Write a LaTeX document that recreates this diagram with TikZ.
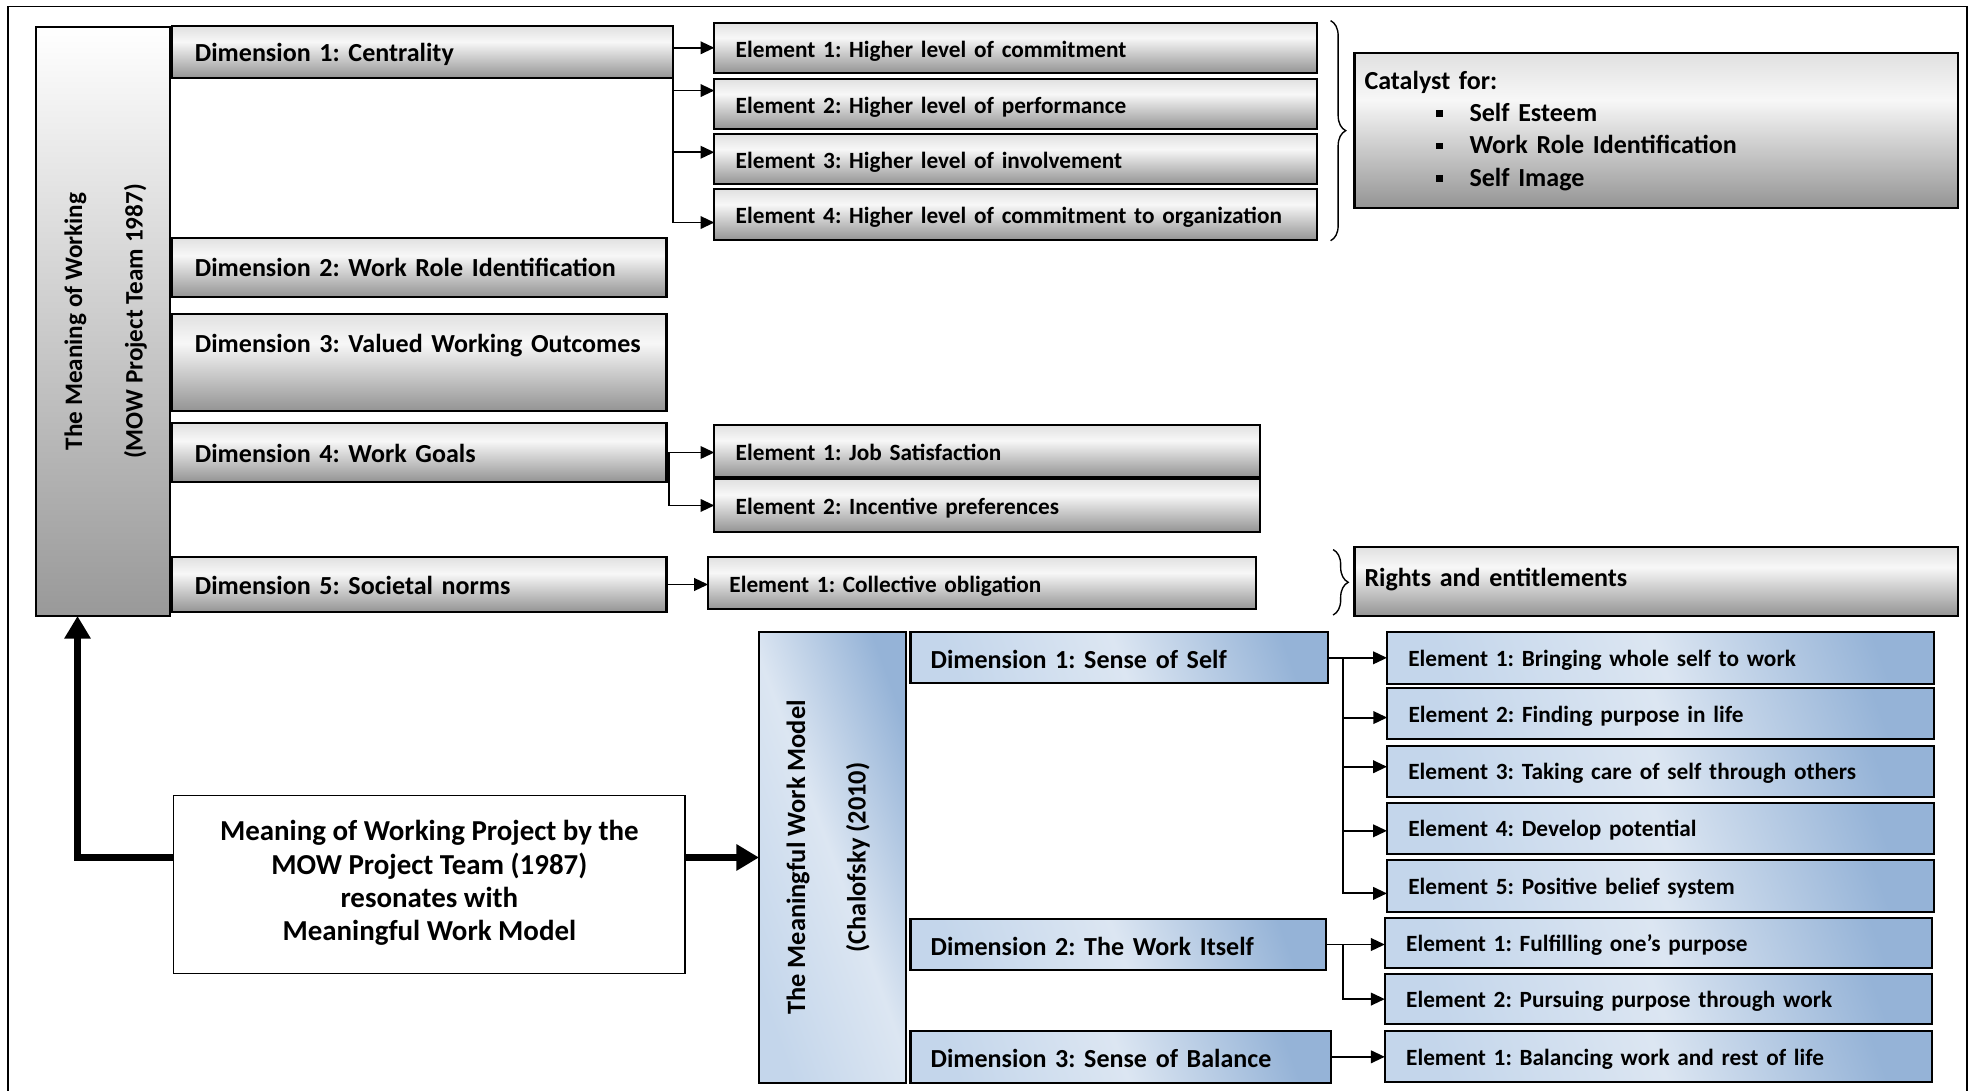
\documentclass[tikz,border=0pt]{standalone}
\usepackage{fontspec}
\setmainfont{Carlito}
\usetikzlibrary{arrows.meta,decorations.pathreplacing,calc}

\definecolor{bluelight}{HTML}{DCE6F2}
\definecolor{bluedark}{HTML}{95B3D7}
\definecolor{bluemid}{HTML}{C4D6EB}

% grey bar: darker bottom, bright band in the upper part, soft grey top
\pgfdeclareverticalshading{greybar}{100bp}{color(0bp)=(black!42); color(25bp)=(black!42); color(60bp)=(black!3); color(75bp)=(black!12); color(100bp)=(black!12)}
% blue bar: medium on the left, light in the middle, dark on the right
\pgfdeclarehorizontalshading{bluebar}{100bp}{color(0bp)=(bluemid); color(25bp)=(bluemid); color(50bp)=(bluelight); color(75bp)=(bluedark); color(100bp)=(bluedark)}

\newcommand\bigtxt{\fontsize{20.7}{24.8}\selectfont\bfseries}
\newcommand\rottxt{\fontsize{20}{24}\selectfont\bfseries}
\newcommand\eltxt{\fontsize{18.5}{22.2}\selectfont\bfseries}
\newcommand\cattxt{\fontsize{20.7}{25.6}\selectfont\bfseries}
\newcommand\midtxt{\fontsize{23}{26.5}\selectfont\bfseries}
\newcommand\sqbul{\rule[3.5pt]{5.5pt}{5.5pt}}

\begin{document}
\frenchspacing
\begin{tikzpicture}[x=1pt,y=-1pt,
  every node/.style={inner sep=0pt, outer sep=0pt},
  greybox/.style={draw=black, line width=1.7pt, shade, shading=greybar, anchor=north west,
    align=left, font=\bigtxt, inner xsep=18pt, inner ysep=0pt},
  oneline/.style={text height=#1, text depth=0pt},
  greydim/.style={greybox, oneline=15.2pt},
  greyel/.style={greybox, font=\eltxt, inner xsep=17pt, oneline=14.8pt},
  bluebox/.style={draw=black, line width=1.7pt, shade, shading=bluebar, shading angle=20,
    anchor=north west, align=left, font=\bigtxt, inner xsep=16pt, inner ysep=0pt, oneline=17.2pt},
  blueel/.style={bluebox, font=\eltxt, inner xsep=17pt, oneline=13.8pt},
  conn/.style={line width=1.5pt, -{Triangle[length=11pt,width=10pt]}},
  thickarr/.style={line width=5pt, -{Triangle[length=18pt,width=20pt]}},
  bracestyle/.style={line width=1.1pt, decorate, decoration={brace, amplitude=12pt}},
]
\useasboundingbox (0,0) rectangle (1568,867);
\draw[line width=1.2pt] (6.5,5) rectangle (1564,880);

% ---------------- MOW model ----------------
\node[draw=black, line width=1.7pt, shade, top color=white, bottom color=black!40,
      anchor=north west, minimum width=106.5pt, minimum height=468.3pt] (mow) at (28.4,21.5) {};
\node[rotate=90, font=\rottxt, align=center] (mowtxt) at ([xshift=2.4pt]mow.center)
  {The Meaning of Working\\[24pt](MOW Project Team 1987)};

\node[greydim, minimum width=398pt, minimum height=41pt, text width=362pt] (d1) at (137,21) {Dimension 1: Centrality};
\node[greydim, minimum width=393pt, minimum height=47pt, text width=357pt] (d2) at (137,189) {Dimension 2: Work Role Identification};
\node[greybox, minimum width=393pt, minimum height=77pt, text width=357pt] (d3) at (137,249.7) {Dimension 3: Valued Working Outcomes\\[6pt]\mbox{}};
\node[greydim, minimum width=393pt, minimum height=46.4pt, text width=357pt] (d4) at (137,336.6) {Dimension 4: Work Goals};
\node[greydim, minimum width=393pt, minimum height=43.5pt, text width=357pt] (d5) at (137,443) {Dimension 5: Societal norms};

\node[greyel, minimum width=479pt, minimum height=40pt, text width=445pt] (e1) at (568,18) {Element 1: Higher level of commitment};
\node[greyel, minimum width=479pt, minimum height=40pt, text width=445pt] (e2) at (568,62.8) {Element 2: Higher level of performance};
\node[greyel, minimum width=479pt, minimum height=39.5pt, text width=445pt] (e3) at (568,106.8) {Element 3: Higher level of involvement};
\node[greyel, minimum width=479pt, minimum height=40.3pt, text width=445pt] (e4) at (568,150.5) {Element 4: Higher level of commitment to organization};

\node[greybox, font=\cattxt, inner xsep=8pt, minimum width=480pt, minimum height=123.2pt, text width=464pt] (cat) at (1077,42.4)
  {Catalyst for:\\
   \hspace*{57pt}\sqbul\hspace{21pt}Self Esteem\\
   \hspace*{57pt}\sqbul\hspace{21pt}Work Role Identification\\
   \hspace*{57pt}\sqbul\hspace{21pt}Self Image};

\node[greyel, minimum width=434pt, minimum height=41pt, text width=400pt] (jobsat) at (568,338) {Element 1: Job Satisfaction};
\node[greyel, minimum width=434pt, minimum height=41.8pt, text width=400pt] (incent) at (568,381) {Element 2: Incentive preferences};
\node[greyel, minimum width=435.6pt, minimum height=41.5pt, text width=401.6pt] (collect) at (563,443) {Element 1: Collective obligation};
\node[greybox, oneline=8pt, inner xsep=8pt, minimum width=480pt, minimum height=55pt, text width=464pt] (rights) at (1077,434.7) {Rights and entitlements};

% connectors of the MOW dimensions
\coordinate (t1) at (d1.east |- e1.west);
\draw[conn] (t1) -- (e1.west);
\draw[conn] (t1) |- ([yshift=10.8pt]e2.west);
\draw[conn] (t1) |- ([yshift=5.5pt]e3.west);
\draw[conn] (t1) |- ([yshift=-6.3pt]e4.west);

\coordinate (t4) at ([xshift=2pt]d4.east);
\draw[conn] (d4.east) -- (d4.east -| jobsat.west);
\draw[conn] (t4) |- (incent.west);
\draw[conn] (d5.east) -- (d5.east -| collect.west);

\coordinate (b1) at (1058,16.4);
\coordinate (b2) at (1058,191.4);
\draw[bracestyle] (b1) -- (b2);
\coordinate (b3) at (1060,437);
\coordinate (b4) at (1060,489);
\draw[bracestyle] (b3) -- (b4);

% ---------------- linking box ----------------
\node[draw=black, line width=1.2pt, fill=white, anchor=north west,
      minimum width=406.8pt, minimum height=141.3pt] (mid) at (138,632.6) {};
\node[font=\midtxt, align=center] (midtxt) at ([yshift=1pt]mid.center)
  {Meaning of Working Project by the\\MOW Project Team (1987)\\resonates with\\Meaningful Work Model};

% ---------------- Meaningful Work Model ----------------
\node[draw=black, line width=1.7pt, shade, shading=bluebar, shading angle=20, anchor=north west,
      minimum width=117pt, minimum height=358pt] (mwm) at (603.5,502.8) {};
\node[rotate=90, font=\fontsize{21}{25}\selectfont\bfseries, align=center] (mwmtxt) at ([xshift=-3.5pt]mwm.center)
  {The Meaningful Work Model\\[23pt](Chalofsky (2010)};

\node[bluebox, minimum width=332.2pt, minimum height=40.5pt, text width=300.2pt] (bd1) at (724,502.8) {Dimension 1: Sense of Self};
\node[bluebox, minimum width=330.3pt, minimum height=40.6pt, text width=298.3pt] (bd2) at (724,730.7) {Dimension 2: The Work Itself};
\node[bluebox, minimum width=334pt, minimum height=41pt, text width=302pt] (bd3) at (724,819.8) {Dimension 3: Sense of Balance};

\node[blueel, minimum width=435.2pt, minimum height=41.1pt, text width=401.2pt] (be1) at (1102.8,502.8) {Element 1: Bringing whole self to work};
\node[blueel, minimum width=435pt, minimum height=40.5pt, text width=401pt] (be2) at (1103,547.3) {Element 2: Finding purpose in life};
\node[blueel, minimum width=435.2pt, minimum height=40.5pt, text width=401.2pt] (be3) at (1102.8,592.9) {Element 3: Taking care of self through others};
\node[blueel, minimum width=435.2pt, minimum height=40.8pt, text width=401.2pt] (be4) at (1102.8,638.2) {Element 4: Develop potential};
\node[blueel, minimum width=435.2pt, minimum height=41.1pt, text width=401.2pt] (be5) at (1102.8,683.8) {Element 5: Positive belief system};
\node[blueel, minimum width=435.2pt, minimum height=40.3pt, text width=401.2pt] (be6) at (1101.1,729.6) {Element 1: Fulfilling one’s purpose};
\node[blueel, minimum width=435.2pt, minimum height=40pt, text width=401.2pt] (be7) at (1101.1,774.4) {Element 2: Pursuing purpose through work};
\node[blueel, minimum width=435.2pt, minimum height=40.7pt, text width=401.2pt] (be8) at (1101.1,819.8) {Element 1: Balancing work and rest of life};

\coordinate (u1) at ([xshift=11.4pt]bd1.east);
\draw[conn] (bd1.east) -- (bd1.east -| be1.west);
\draw[conn] (u1) |- ([yshift=-3pt]be2.west);
\draw[conn] (u1) |- ([yshift=3.5pt]be3.west);
\draw[conn] (u1) |- ([yshift=-2pt]be4.west);
\draw[conn] (u1) |- ([yshift=-6pt]be5.west);

\coordinate (u2) at ([xshift=13.3pt]bd2.east);
\draw[conn] (bd2.east) -- (bd2.east -| be6.west);
\draw[conn] (u2) |- (be7.west);
\draw[conn] (bd3.east) -- (bd3.east -| be8.west);

% ---------------- thick links ----------------
\draw[thickarr] (mid.west |- mwm.west) -| ([xshift=-20pt]mow.south);
\draw[thickarr] (mid.east |- mwm.west) -- (mwm.west);
\end{tikzpicture}
\end{document}
